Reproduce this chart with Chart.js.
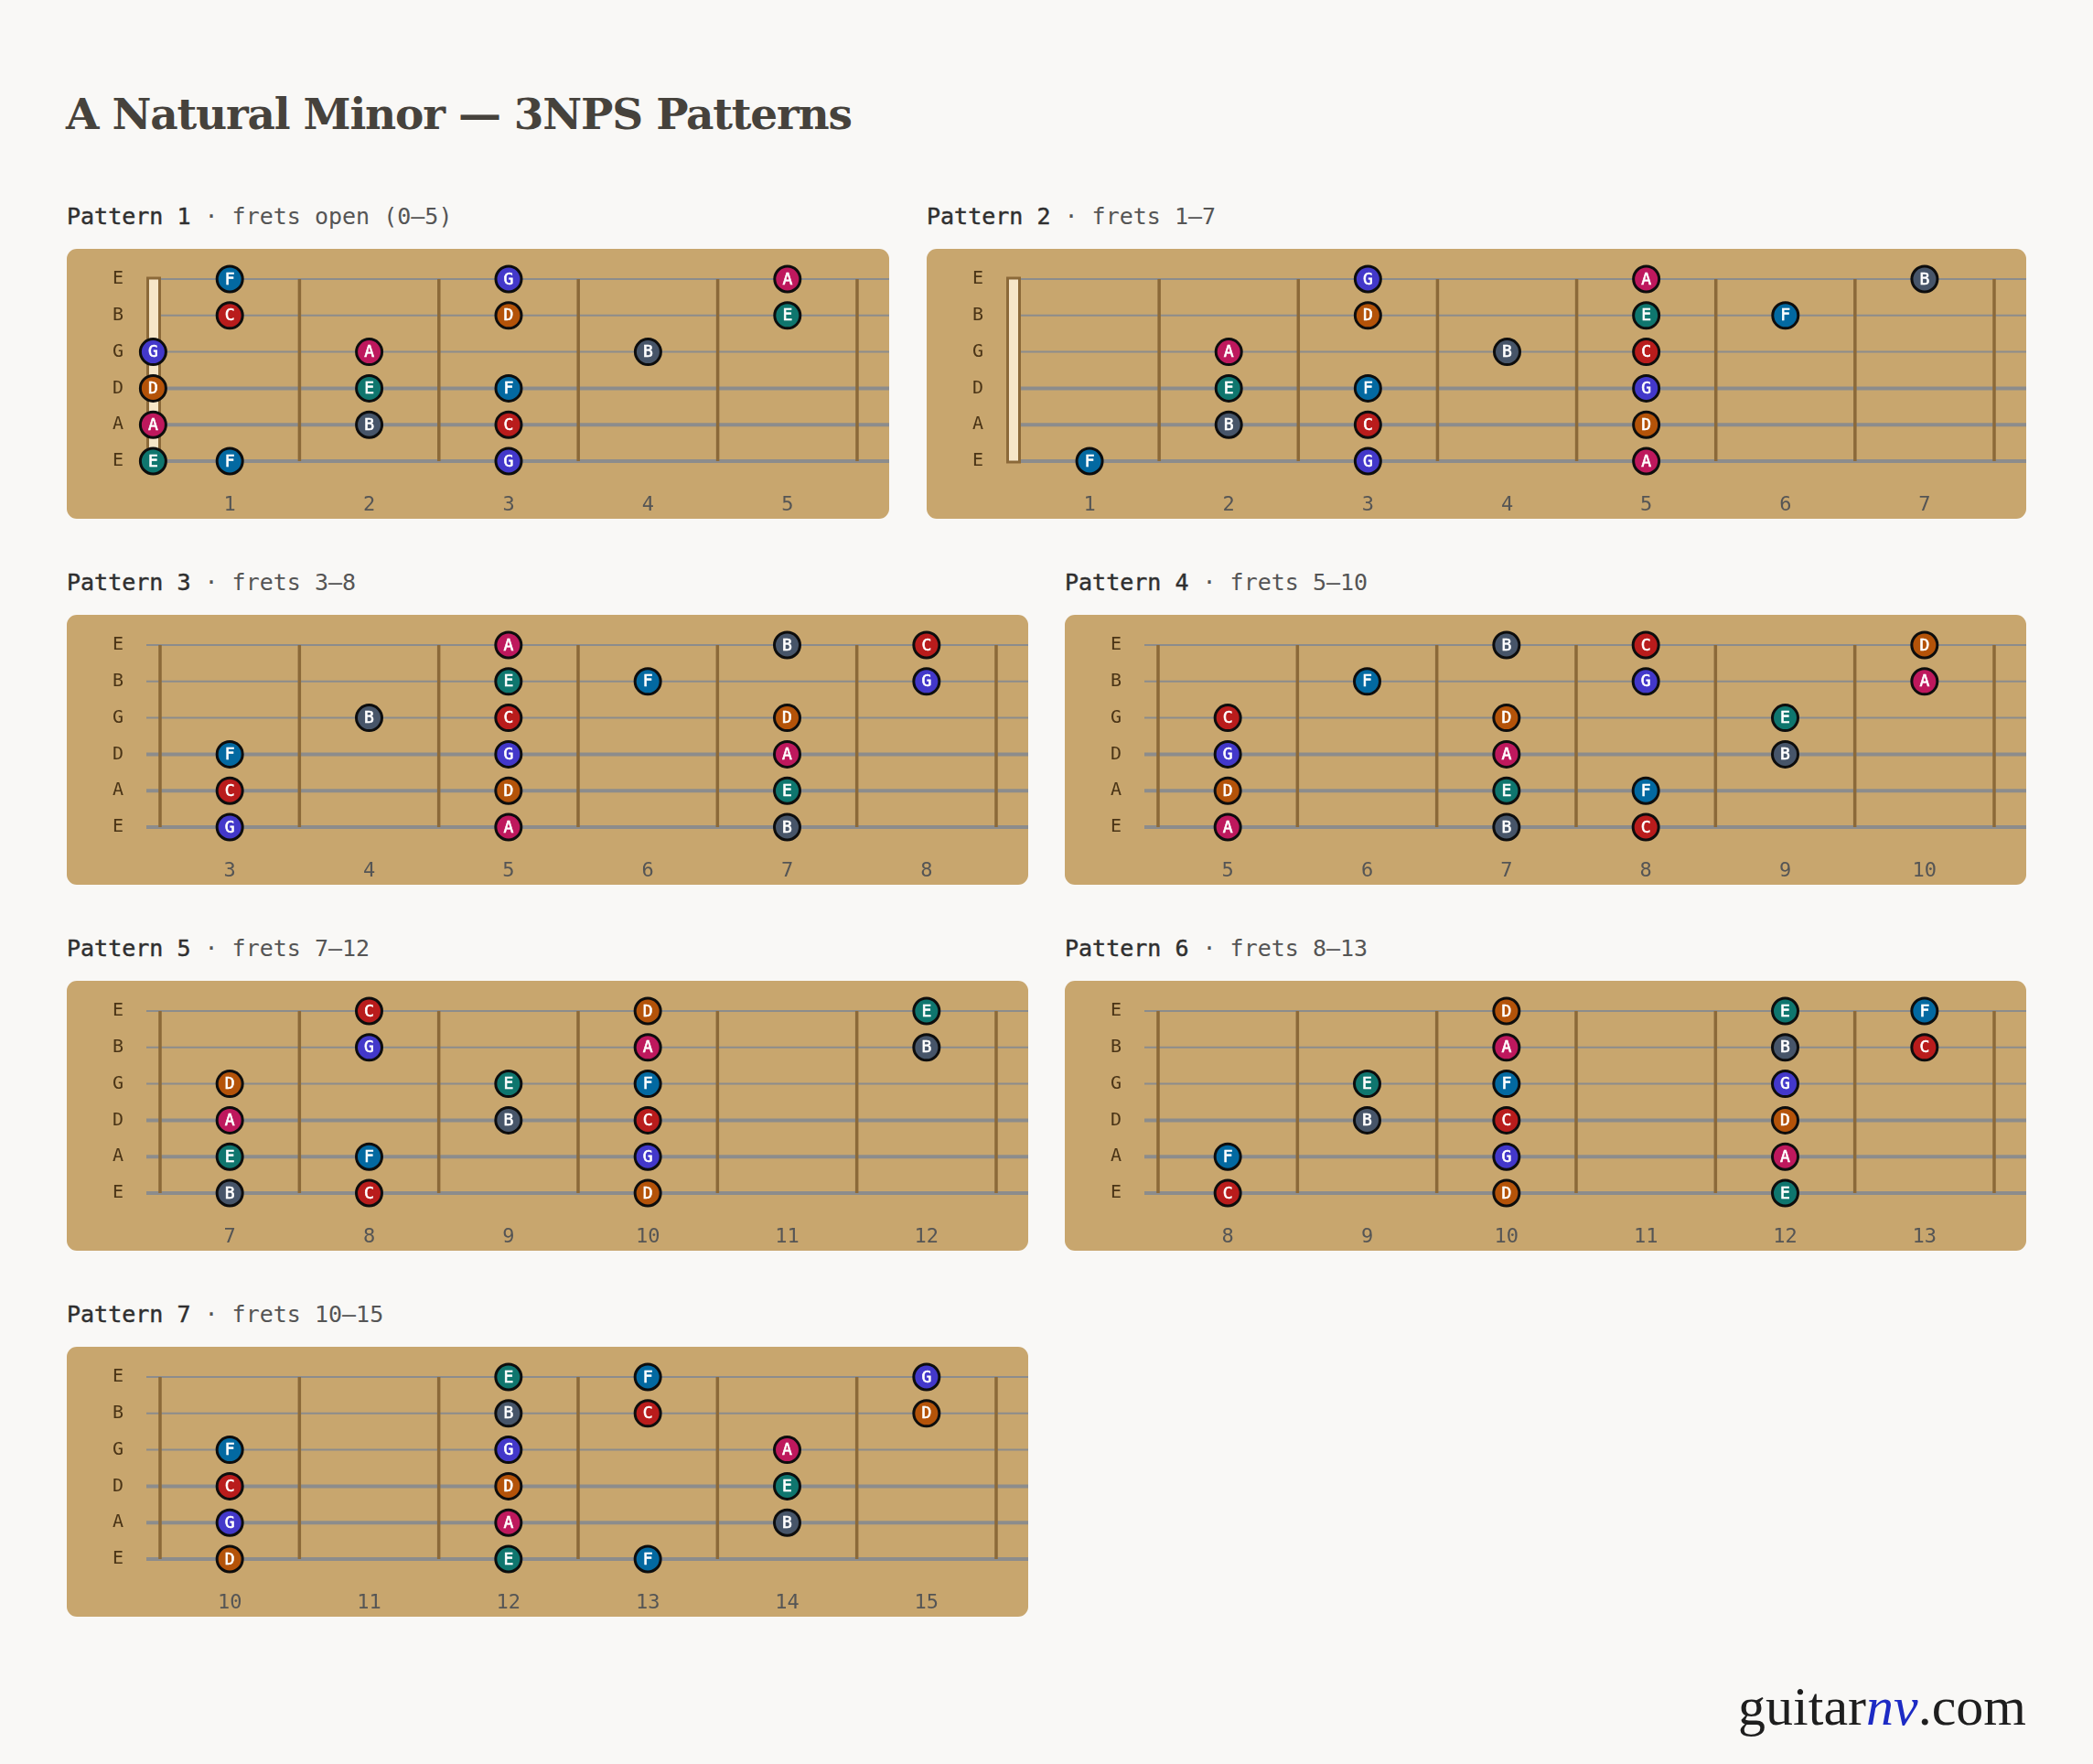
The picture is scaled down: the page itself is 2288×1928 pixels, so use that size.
<!DOCTYPE html>
<html>
<head>
<meta charset="utf-8">
<script src="https://cdn.jsdelivr.net/npm/chart.js@4.4.1/dist/chart.umd.min.js"></script>
<style>
  html, body { margin: 0; padding: 0; background: #f9f8f6; }
  body { width: 2288px; height: 1928px; position: relative; overflow: hidden; }
  h1 { position: absolute; left: 72px; top: 97px; margin: 0; line-height: 1;
       font: bold 47px 'DejaVu Serif', serif; color: #46423c; white-space: nowrap; letter-spacing: -1.2px; }
  .hd { position: absolute; margin: 0; line-height: 1; white-space: pre;
        font: 25px 'DejaVu Sans Mono', monospace; color: #555; }
  .hd b { color: #2f2f2f; font-weight: normal; -webkit-text-stroke: 0.45px #2f2f2f; }
  .panel { position: absolute; background: #c8a66e; border-radius: 11px; height: 295px; }
  .panel canvas { display: block; }
  .mark { position: absolute; right: 73px; top: 1831px; line-height: 1;
          font: 60px 'Liberation Serif', serif; color: #1e1e1e; }
  .mark i { color: #1d2bc4; }
</style>
</head>
<body>
<h1>A Natural Minor — 3NPS Patterns</h1>
<div id="board"></div>
<div class="mark">guitar<i>nv</i>.com</div>

<script>
// strings top to bottom (high E first)
const stringNames = ['E', 'B', 'G', 'D', 'A', 'E'];

const noteColors = {
  A: '#be185d', B: '#475569', C: '#b91c1c', D: '#b45309',
  E: '#0f766e', F: '#0369a1', G: '#4338ca'
};

// fret numbers and note names per string, high E first
const p1Frets = [[1, 3, 5], [1, 3, 5], [0, 2, 4], [0, 2, 3], [0, 2, 3], [0, 1, 3]];
const p1Notes = [['F', 'G', 'A'], ['C', 'D', 'E'], ['G', 'A', 'B'], ['D', 'E', 'F'], ['A', 'B', 'C'], ['E', 'F', 'G']];

const p2Frets = [[3, 5, 7], [3, 5, 6], [2, 4, 5], [2, 3, 5], [2, 3, 5], [1, 3, 5]];
const p2Notes = [['G', 'A', 'B'], ['D', 'E', 'F'], ['A', 'B', 'C'], ['E', 'F', 'G'], ['B', 'C', 'D'], ['F', 'G', 'A']];

const p3Frets = [[5, 7, 8], [5, 6, 8], [4, 5, 7], [3, 5, 7], [3, 5, 7], [3, 5, 7]];
const p3Notes = [['A', 'B', 'C'], ['E', 'F', 'G'], ['B', 'C', 'D'], ['F', 'G', 'A'], ['C', 'D', 'E'], ['G', 'A', 'B']];

const p4Frets = [[7, 8, 10], [6, 8, 10], [5, 7, 9], [5, 7, 9], [5, 7, 8], [5, 7, 8]];
const p4Notes = [['B', 'C', 'D'], ['F', 'G', 'A'], ['C', 'D', 'E'], ['G', 'A', 'B'], ['D', 'E', 'F'], ['A', 'B', 'C']];

const p5Frets = [[8, 10, 12], [8, 10, 12], [7, 9, 10], [7, 9, 10], [7, 8, 10], [7, 8, 10]];
const p5Notes = [['C', 'D', 'E'], ['G', 'A', 'B'], ['D', 'E', 'F'], ['A', 'B', 'C'], ['E', 'F', 'G'], ['B', 'C', 'D']];

const p6Frets = [[10, 12, 13], [10, 12, 13], [9, 10, 12], [9, 10, 12], [8, 10, 12], [8, 10, 12]];
const p6Notes = [['D', 'E', 'F'], ['A', 'B', 'C'], ['E', 'F', 'G'], ['B', 'C', 'D'], ['F', 'G', 'A'], ['C', 'D', 'E']];

const p7Frets = [[12, 13, 15], [12, 13, 15], [10, 12, 14], [10, 12, 14], [10, 12, 14], [10, 12, 13]];
const p7Notes = [['E', 'F', 'G'], ['B', 'C', 'D'], ['F', 'G', 'A'], ['C', 'D', 'E'], ['G', 'A', 'B'], ['D', 'E', 'F']];

const patternNames = ['Pattern 1', 'Pattern 2', 'Pattern 3', 'Pattern 4', 'Pattern 5', 'Pattern 6', 'Pattern 7'];
const patternRanges = ['frets open (0–5)', 'frets 1–7', 'frets 3–8', 'frets 5–10', 'frets 7–12', 'frets 8–13', 'frets 10–15'];
const fretLow = [1, 1, 3, 5, 7, 8, 10];   // first numbered fret
const fretHigh = [5, 7, 8, 10, 12, 13, 15];
const hasNut = [true, true, false, false, false, false, false];

// panel placement on the page
const panelLeft = [73, 1013, 73, 1164, 73, 1164, 73];
const panelTop = [272, 272, 672, 672, 1072, 1072, 1472];
const panelWidth = [899, 1202, 1051, 1051, 1051, 1051, 1051];

const allFrets = [p1Frets, p2Frets, p3Frets, p4Frets, p5Frets, p6Frets, p7Frets];
const allNotes = [p1Notes, p2Notes, p3Notes, p4Notes, p5Notes, p6Notes, p7Notes];

// fret wires sit on integer x values, a note on fret f sits half a slot before wire f
const fretboard = {
  id: 'fretboard',
  beforeDatasetsDraw(chart, args, opts) {
    const { ctx, scales: { x, y } } = chart;
    const x0 = x.getPixelForValue(x.min);
    const top = y.getPixelForValue(1);
    const bot = y.getPixelForValue(6);
    ctx.save();
    for (let s = 1; s <= 6; s++) {
      const py = y.getPixelForValue(s);
      ctx.strokeStyle = '#8c8c8c';
      ctx.lineWidth = s <= 3 ? 2 : 4;
      ctx.beginPath();
      ctx.moveTo(x0 - 15, py);
      ctx.lineTo(chart.width, py);
      ctx.stroke();
    }
    ctx.strokeStyle = '#8b6939';
    ctx.lineWidth = 3.5;
    for (let f = opts.nut ? x.min + 1 : x.min; f <= x.max; f++) {
      const px = x.getPixelForValue(f);
      ctx.beginPath();
      ctx.moveTo(px, top);
      ctx.lineTo(px, bot);
      ctx.stroke();
    }
    if (opts.nut) {
      ctx.fillStyle = '#f6e6c8';
      ctx.fillRect(x0 - 14, top - 1, 14, bot - top + 2);
      ctx.strokeStyle = '#8b6939';
      ctx.lineWidth = 3;
      ctx.strokeRect(x0 - 13.5, top - 1, 13, bot - top + 2);
    }
    ctx.restore();
  }
};

const noteLabels = {
  id: 'noteLabels',
  afterDatasetsDraw(chart) {
    const ctx = chart.ctx;
    const pts = chart.data.datasets[0].data;
    ctx.save();
    ctx.font = '18px "DejaVu Sans Mono"';
    ctx.fillStyle = '#ffffff';
    ctx.strokeStyle = '#ffffff';
    ctx.lineWidth = 0.6;
    ctx.textAlign = 'center';
    ctx.textBaseline = 'middle';
    chart.getDatasetMeta(0).data.forEach((el, i) => {
      ctx.fillText(pts[i].n, el.x, el.y + 1);
      ctx.strokeText(pts[i].n, el.x, el.y + 1);
    });
    ctx.restore();
  }
};

const board = document.getElementById('board');

patternNames.forEach((name, p) => {
  const hd = document.createElement('div');
  hd.className = 'hd';
  hd.style.left = panelLeft[p] + 'px';
  hd.style.top = (panelTop[p] - 50) + 'px';
  hd.innerHTML = '<b>' + name + '</b> · ' + patternRanges[p];
  board.appendChild(hd);

  const panel = document.createElement('div');
  panel.className = 'panel';
  panel.style.left = panelLeft[p] + 'px';
  panel.style.top = panelTop[p] + 'px';
  panel.style.width = panelWidth[p] + 'px';
  const canvas = document.createElement('canvas');
  canvas.width = panelWidth[p];
  canvas.height = 295;
  panel.appendChild(canvas);
  board.appendChild(panel);

  const points = [];
  allFrets[p].forEach((row, s) => {
    row.forEach((f, k) => {
      points.push({ x: f === 0 ? -0.05 : f - 0.5, y: s + 1, n: allNotes[p][s][k] });
    });
  });

  const tickFrets = [];
  for (let f = fretLow[p]; f <= fretHigh[p]; f++) tickFrets.push(f);

  new Chart(canvas, {
    type: 'scatter',
    data: {
      datasets: [{
        data: points,
        pointRadius: 14,
        pointBorderWidth: 3,
        pointBorderColor: '#0d0d0d',
        pointBackgroundColor: ctx => noteColors[ctx.raw ? ctx.raw.n : 'A'],
        clip: false
      }]
    },
    options: {
      responsive: false,
      devicePixelRatio: 1,
      animation: false,
      events: [],
      layout: { padding: { top: 33, right: 35, left: 50, bottom: 0 } },
      plugins: {
        legend: { display: false },
        tooltip: { enabled: false },
        fretboard: { nut: hasNut[p] }
      },
      scales: {
        x: {
          type: 'linear',
          min: fretLow[p] - 1,
          max: fretHigh[p],
          grid: { display: false, drawTicks: false },
          border: { display: false },
          afterBuildTicks: scale => { scale.ticks = tickFrets.map(f => ({ value: f - 0.5 })); },
          afterFit: scale => { scale.height = 63; },
          ticks: {
            autoSkip: false,
            maxRotation: 0,
            padding: 35,
            color: '#555',
            font: { family: 'DejaVu Sans Mono', size: 22 },
            callback: v => String(Math.round(v + 0.5))
          }
        },
        y: {
          type: 'linear',
          reverse: true,
          min: 1,
          max: 6,
          grid: { display: false, drawTicks: false },
          border: { display: false },
          afterBuildTicks: scale => { scale.ticks = stringNames.map((s, i) => ({ value: i + 1 })); },
          afterFit: scale => { scale.width = 52; },
          ticks: {
            autoSkip: false,
            padding: 0,
            crossAlign: 'far',
            color: '#4a3416',
            font: { family: 'DejaVu Sans Mono', size: 20 },
            callback: v => stringNames[Math.round(v) - 1]
          }
        }
      }
    },
    plugins: [fretboard, noteLabels]
  });
});
</script>
</body>
</html>
